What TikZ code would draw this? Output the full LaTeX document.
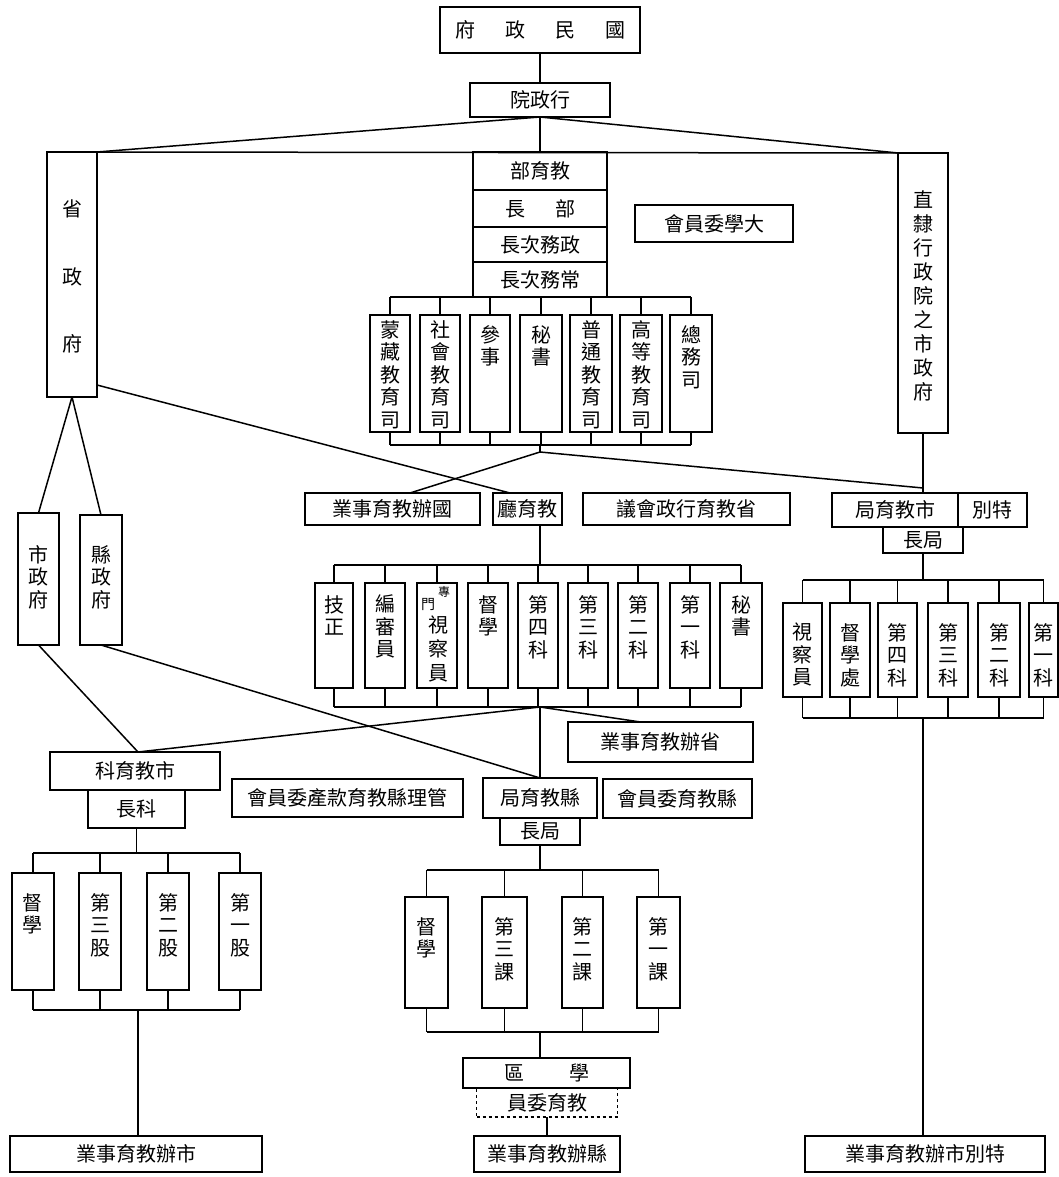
\documentclass[tikz,border=0pt]{standalone}
\usepackage{fontspec}
\setmainfont{Noto Sans CJK TC}
\newcommand\bx[6]{\node[box, minimum width={(#4-#2)*1pt}, minimum height={(#5-#3)*1pt}] (#1) at ({(#2+#4)/2},{(#3+#5)/2}) {#6};}
\newcommand\vb[7]{\bx{#1}{#2}{#3}{#4}{#5}{}\node[vt] (#1t) at ([yshift=-#6pt]#1.north) {#7};}
\begin{document}
\begin{tikzpicture}[x=1pt,y=-1pt,
 box/.style={draw, line width=1.6pt, inner sep=0pt, outer sep=0pt, font=\fontsize{20}{22}\selectfont},
 vt/.style={anchor=north, align=center, inner sep=0pt, font=\fontsize{20}{22.5}\selectfont},
 ln/.style={line width=1.5pt}]
\useasboundingbox (0,0) rectangle (1059,1177);
\fill[white] (0,0) rectangle (1059,1177);
% ---------- top ----------
\bx{gov}{440}{7}{640}{53}{府\hspace{30pt}政\hspace{30pt}民\hspace{30pt}國}
\bx{exec}{470}{83}{610}{117}{院政行}
\draw[ln] (gov.south) -- (exec.north);
\bx{prov}{47}{152}{97}{397}{}
\node[vt] (provt) at (72,200) {省\\[45pt]政\\[45pt]府};
\bx{zhi}{898}{153}{948}{433}{}
\node[vt, font=\fontsize{20}{24}\selectfont] (zhit) at (923,190) {直\\隸\\行\\政\\院\\之\\市\\政\\府};
% ministry block
\bx{m1}{473}{152}{607}{190}{部育教}
\bx{m2}{473}{190}{607}{227}{長\hspace{30pt}部}
\bx{m3}{473}{227}{607}{262}{長次務政}
\bx{m4}{473}{262}{607}{297}{長次務常}
\bx{dxw}{635}{205}{793}{242}{會員委學大}
\draw[ln] (exec.south) -- (prov.north east);
\draw[ln] (exec.south) -- (zhi.north west);
\draw[ln] (prov.north east) -- (zhi.north west);
\draw[ln] (exec.south) -- (m1.north);
% ministry departments
\vb{d1}{370}{315}{410}{432}{5}{蒙\\藏\\教\\育\\司}
\vb{d2}{420}{315}{460}{432}{5}{社\\會\\教\\育\\司}
\vb{d3}{470}{315}{510}{432}{10}{參\\事}
\vb{d4}{520}{315}{562}{432}{10}{秘\\書}
\vb{d5}{570}{315}{612}{432}{5}{普\\通\\教\\育\\司}
\vb{d6}{620}{315}{662}{432}{5}{高\\等\\教\\育\\司}
\vb{d7}{670}{315}{712}{432}{10}{總\\務\\司}
\draw[ln] (d1.north |- m4.south) -- (d7.north |- m4.south);
\coordinate (bb1) at (540,445);
\coordinate (j1) at (540,452);
\draw[ln] (d1.south |- bb1) -- (d7.south |- bb1);
\foreach \n in {d1,d2,d3,d4,d5,d6,d7}{
  \draw[ln] (\n.north) -- (\n.north |- m4.south);
  \draw[ln] (\n.south) -- (\n.south |- bb1);}
\draw[ln] (bb1) -- (j1);
% ---------- middle row ----------
\bx{guo}{305}{493}{480}{525}{業事育教辦國}
\bx{ting}{493}{493}{562}{525}{廳育教}
\bx{yi}{583}{493}{790}{525}{議會政行育教省}
\draw[ln] (j1) -- ([xshift=17.5pt]guo.north);
\draw[ln] ([yshift=12pt]prov.south east) -- ([xshift=-17.5pt]ting.north);
% ---------- special city (right) ----------
\bx{sj1}{832}{493}{958}{527}{局育教市}
\bx{sj2}{958}{493}{1027}{527}{別特}
\bx{sjz}{883}{527}{963}{553}{長局}
\draw[ln] (zhi.south) -- (zhi.south |- sj1.north);
\draw[ln] (j1) -- ([yshift=5pt]zhi.south |- sj1.north);
\coordinate (rb1) at (923,580);
\coordinate (rb2) at (923,718);
\draw[ln] (sjz.south) -- (rb1);
\vb{r1}{783}{603}{822}{697}{20}{視\\察\\員}
\vb{r2}{830}{603}{870}{697}{20}{督\\學\\處}
\vb{r3}{878}{603}{917}{697}{20}{第\\四\\科}
\vb{r4}{928}{603}{968}{697}{20}{第\\三\\科}
\vb{r5}{978}{603}{1020}{697}{20}{第\\二\\科}
\vb{r6}{1029}{603}{1058}{697}{20}{第\\一\\科}
\draw[ln] (r1.north |- rb1) -- (r6.north |- rb1);
\draw[ln] (r1.south |- rb2) -- (r6.south |- rb2);
\foreach \n in {r1,r2,r3,r4,r5,r6}{
  \draw[ln] (\n.north) -- (\n.north |- rb1);
  \draw[ln] (\n.south) -- (\n.south |- rb2);}
\bx{rbot}{805}{1136}{1045}{1172}{業事育教辦市別特}
\draw[ln] (rb2) -- (rb2 |- rbot.north);
% ---------- provincial education dept ----------
\coordinate (tb1) at (540,565);
\coordinate (tb2) at (540,707);
\draw[ln] (tb1) -- (tb1 |- ting.south);
\vb{t1}{315}{583}{353}{688}{12}{技\\正}
\vb{t2}{365}{583}{405}{688}{12}{編\\審\\員}
\bx{t3}{417}{583}{457}{688}{}
\node[inner sep=0pt, font=\fontsize{12}{12}\selectfont] (t3a) at (444,592) {專};
\node[inner sep=0pt, font=\fontsize{14}{14}\selectfont] (t3b) at (428,605) {門};
\node[vt, font=\fontsize{20}{24}\selectfont] (t3t) at (438,616) {視\\察\\員};
\vb{t4}{468}{583}{508}{688}{12}{督\\學}
\vb{t5}{518}{583}{558}{688}{12}{第\\四\\科}
\vb{t6}{568}{583}{608}{688}{12}{第\\三\\科}
\vb{t7}{618}{583}{658}{688}{12}{第\\二\\科}
\vb{t8}{670}{583}{710}{688}{12}{第\\一\\科}
\vb{t9}{720}{583}{762}{688}{12}{秘\\書}
\draw[ln] (t1.north |- tb1) -- (t9.north |- tb1);
\draw[ln] (t1.south |- tb2) -- (t9.south |- tb2);
\foreach \n in {t1,t2,t3,t4,t5,t6,t7,t8,t9}{
  \draw[ln] (\n.north) -- (\n.north |- tb1);
  \draw[ln] (\n.south) -- (\n.south |- tb2);}
\bx{sb}{568}{722}{753}{762}{業事育教辦省}
\draw[ln] (tb2) -- ([xshift=-20pt]sb.north);
% ---------- county level ----------
\bx{gl}{232}{779}{463}{817}{會員委產款育教縣理管}
\bx{xj}{483}{778}{597}{818}{局育教縣}
\bx{xjz}{500}{818}{580}{845}{長局}
\bx{xw2}{603}{779}{752}{818}{會員委育教縣}
\draw[ln] (tb2) -- (xj.north);
\coordinate (xb1) at (540,870);
\coordinate (xb2) at (540,1032);
\draw[ln] (xjz.south) -- (xb1);
\vb{x1}{405}{897}{448}{1008}{20}{督\\學}
\vb{x2}{482}{897}{527}{1008}{20}{第\\三\\課}
\vb{x3}{562}{897}{603}{1008}{20}{第\\二\\課}
\vb{x4}{637}{897}{680}{1008}{20}{第\\一\\課}
\draw[ln] (x1.north |- xb1) -- (x4.north |- xb1);
\draw[ln] (x1.south |- xb2) -- (x4.south |- xb2);
\foreach \n in {x1,x2,x3,x4}{
  \draw[ln] (\n.north) -- (\n.north |- xb1);
  \draw[ln] (\n.south) -- (\n.south |- xb2);}
\bx{xq}{463}{1058}{630}{1088}{區\hspace{45pt}學}
\node[box, dashed, minimum width=141pt, minimum height=29pt] (xw) at (547,1102.5) {員委育教};
\draw[ln] (xb2) -- (xb2 |- xq.north);
\bx{xbot}{474}{1136}{620}{1172}{業事育教辦縣}
\draw[ln] (xw.south) -- (xbot.north);
% ---------- city / county governments (left) ----------
\bx{shi}{18}{513}{59}{645}{}
\node[vt] (shit) at (38.5,545) {市\\政\\府};
\bx{xian}{80}{515}{122}{645}{}
\node[vt] (xiant) at (101,545) {縣\\政\\府};
\draw[ln] (prov.south) -- (shi.north);
\draw[ln] (prov.south) -- (xian.north);
\bx{sk}{50}{752}{220}{790}{科育教市}
\bx{skz}{88}{790}{185}{828}{長科}
\draw[ln] (shi.south) -- ([xshift=3pt]sk.north);
\draw[ln] (tb2) -- ([xshift=3pt]sk.north);
\draw[ln] (xian.south) -- (xj.north);
\coordinate (lb1) at (136.5,853);
\coordinate (lb2) at (138,1010);
\draw[ln] (skz.south) -- (lb1);
\vb{l1}{12}{873}{54}{990}{20}{督\\學}
\vb{l2}{79}{873}{121}{990}{20}{第\\三\\股}
\vb{l3}{147}{873}{189}{990}{20}{第\\二\\股}
\vb{l4}{219}{873}{261}{990}{20}{第\\一\\股}
\draw[ln] (l1.north |- lb1) -- (l4.north |- lb1);
\draw[ln] (l1.south |- lb2) -- (l4.south |- lb2);
\foreach \n in {l1,l2,l3,l4}{
  \draw[ln] (\n.north) -- (\n.north |- lb1);
  \draw[ln] (\n.south) -- (\n.south |- lb2);}
\bx{lbot}{10}{1136}{262}{1172}{業事育教辦市}
\draw[ln] (lb2) -- (lb2 |- lbot.north);
\end{tikzpicture}
\end{document}
